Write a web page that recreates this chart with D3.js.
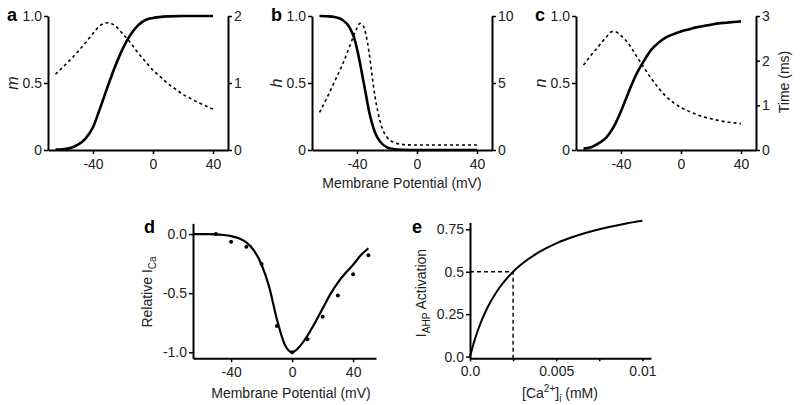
<!DOCTYPE html>
<html><head><meta charset="utf-8">
<script src="https://cdn.jsdelivr.net/npm/d3@7"></script>
<style>
body{margin:0;background:#fff;}
svg text{font-family:"Liberation Sans",Arial,sans-serif;}
</style></head>
<body><svg id="c" width="800" height="405"></svg>
<script>
// ---------- data ----------
const mV = [-65,-60,-55,-50,-45,-40,-35,-30,-25,-20,-15,-10,-5,0,10,20,30,40];
const mInf = [0.003,0.006,0.015,0.04,0.085,0.17,0.32,0.48,0.63,0.76,0.86,0.93,0.97,0.985,0.997,1,1,1];
const tauMV = [-65,-60,-55,-50,-45,-40,-35,-30,-25,-20,-15,-10,-5,0,5,10,15,20,25,30,35,40];
const tauM = [1.13,1.24,1.35,1.47,1.6,1.74,1.86,1.9,1.85,1.73,1.6,1.45,1.32,1.19,1.09,0.99,0.91,0.83,0.77,0.71,0.66,0.61];

const hV = [-65,-60,-55,-50,-45,-42,-40,-38,-36,-34,-32,-30,-28,-25,-20,-15,-10,0,20,40];
const hInf = [1,0.998,0.992,0.973,0.915,0.84,0.755,0.65,0.53,0.41,0.29,0.2,0.13,0.068,0.02,0.006,0.002,0,0,0];
const tauHV = [-65,-60,-55,-50,-45,-42,-40,-38,-36,-34,-32,-30,-28,-26,-24,-22,-20,-15,-10,-5,0,20,40];
const tauH = [2.8,3.9,5.1,6.3,7.7,8.6,9.1,9.45,9.3,8.6,7.3,5.6,4.0,2.8,1.9,1.3,0.95,0.55,0.42,0.38,0.37,0.37,0.37];

const nV = [-65,-60,-55,-50,-45,-40,-35,-30,-25,-20,-15,-10,-5,0,5,10,15,20,25,30,35,40];
const nInf = [0.01,0.02,0.05,0.09,0.17,0.29,0.43,0.56,0.66,0.745,0.8,0.84,0.865,0.885,0.9,0.915,0.925,0.935,0.945,0.95,0.955,0.96];
const tauNV = [-65,-60,-55,-50,-46,-44,-40,-35,-30,-25,-20,-15,-10,-5,0,5,10,15,20,25,30,35,40];
const tauN = [1.9,2.12,2.32,2.52,2.65,2.65,2.56,2.38,2.12,1.86,1.61,1.39,1.2,1.06,0.95,0.87,0.8,0.74,0.7,0.66,0.63,0.61,0.59];

const iCaDotV = [-50,-40,-30,-20,-10,0,10,20,30,40,50];
const iCaDot = [0,-0.065,-0.107,-0.254,-0.778,-1.0,-0.89,-0.70,-0.52,-0.34,-0.18];
const iCaFitV = [-65,-55,-50,-45,-40,-35,-30,-25,-20,-15,-10,-5,0,5,10,15,20,25,30,35,40,45,50];
const iCaFit = [0,0,-0.002,-0.008,-0.018,-0.035,-0.07,-0.14,-0.26,-0.45,-0.72,-0.93,-1.0,-0.95,-0.86,-0.75,-0.63,-0.51,-0.41,-0.33,-0.26,-0.18,-0.12];

const caConc = [0,0.00025,0.0005,0.001,0.0015,0.002,0.0025,0.003,0.004,0.005,0.006,0.007,0.008,0.009,0.01];
const ahpAct = [0,0.091,0.167,0.286,0.375,0.444,0.5,0.545,0.615,0.667,0.706,0.737,0.762,0.783,0.8];
const ahpHalf = [0.0025, 0.5];

const vTicks = [-40,0,40];
const gateTicks = [0,0.5,1];
const rightTicksA = [0,1,2], rightTicksB = [0,5,10], rightTicksC = [0,1,2,3];
const dYTicks = [0,-0.5,-1];
const eYTicks = [0,0.25,0.5,0.75];
const eXTicks = [0,0.0025,0.005,0.0075,0.01];
const eXLabels = {"0":"0.0","0.005":"0.005","0.01":"0.01"};

// ---------- drawing ----------
const svg = d3.select("#c");
const FS = 14, TXT = "#222";
const zip = (a,b) => a.map((v,i)=>[v,b[i]]);

function styleAxis(g){
  g.selectAll("path.domain").attr("stroke","#000").attr("stroke-width",2);
  g.selectAll(".tick line").attr("stroke","#000").attr("stroke-width",1.5);
  g.selectAll(".tick text").attr("font-size",FS).attr("fill",TXT)
    .attr("font-family","Liberation Sans, Arial, sans-serif");
}
function line(x,y,pts,dashed,w,curve){
  svg.append("path").datum(pts)
    .attr("fill","none").attr("stroke","#000")
    .attr("stroke-width",w)
    .attr("stroke-dasharray",dashed?"3,3":null)
    .attr("d",d3.line().x(d=>x(d[0])).y(d=>y(d[1])).curve(curve||d3.curveMonotoneX));
}
function letter(t,x,y){
  svg.append("text").attr("x",x).attr("y",y).text(t)
    .attr("font-size",18).attr("font-weight","bold").attr("fill","#000");
}
function ylab(t,x,y,italic,fs){
  return svg.append("text").attr("transform",`translate(${x},${y}) rotate(-90)`)
    .attr("text-anchor","middle").attr("font-size",fs||FS).attr("fill",TXT)
    .attr("font-style",italic?"italic":null).text(t);
}

function gatePanel(x0, lbl, sym, rDomain, rTicks, sV, sY, dV, dY){
  const x = d3.scaleLinear().domain([-70,50]).range([x0, x0+180]);
  const y = d3.scaleLinear().domain([0,1]).range([150,16]);
  const y2 = d3.scaleLinear().domain(rDomain).range([150,16]);
  line(x,y2,zip(dV,dY),true,1.6);
  line(x,y,zip(sV,sY),false,2.6);
  svg.append("g").attr("transform","translate(0,150)")
    .call(d3.axisBottom(x).tickValues(vTicks).tickFormat(d=>String(d)).tickSize(4).tickSizeOuter(0).tickPadding(5))
    .call(styleAxis);
  svg.append("g").attr("transform",`translate(${x0},0)`)
    .call(d3.axisLeft(y).tickValues(gateTicks).tickFormat(d=>d===0?"0":d3.format(".1f")(d)).tickSize(4).tickSizeOuter(0).tickPadding(2))
    .call(styleAxis);
  svg.append("g").attr("transform",`translate(${x0+180},0)`)
    .call(d3.axisRight(y2).tickValues(rTicks).tickFormat(d=>String(d)).tickSize(4).tickSizeOuter(0).tickPadding(2))
    .call(styleAxis);
  letter(lbl, x0-41, 21);
  ylab(sym, x0-30, 83, true, 16);
}

gatePanel(48, "a", "m", [0,2], rightTicksA, mV, mInf, tauMV, tauM);
gatePanel(312, "b", "h", [0,10], rightTicksB, hV, hInf, tauHV, tauH);
gatePanel(576, "c", "n", [0,3], rightTicksC, nV, nInf, tauNV, tauN);
ylab("Time (ms)", 789, 82);
svg.append("text").attr("x",402).attr("y",188).attr("text-anchor","middle")
  .attr("font-size",FS).attr("fill",TXT).text("Membrane Potential (mV)");

// panel d
{
  const x = d3.scaleLinear().domain([-65,55]).range([193,376]);
  const y = d3.scaleLinear().domain([-1.05,0.09]).range([358.2,223.4]);
  line(x,y,zip(iCaFitV,iCaFit),false,2.2);
  svg.append("g").selectAll("circle").data(zip(iCaDotV,iCaDot)).join("circle")
    .attr("cx",d=>x(d[0])).attr("cy",d=>y(d[1])).attr("r",2).attr("fill","#000");
  svg.append("g").attr("transform","translate(0,358.2)")
    .call(d3.axisBottom(x).tickValues(vTicks).tickFormat(d=>String(d)).tickSize(4).tickSizeOuter(0).tickPadding(5))
    .call(styleAxis);
  svg.append("g").attr("transform","translate(193,0)")
    .call(d3.axisLeft(y).tickValues(dYTicks).tickFormat(d=>d3.format(".1f")(d).replace("−","-")).tickSize(4).tickSizeOuter(0).tickPadding(2))
    .call(styleAxis);
  letter("d",144,233);
  const t = ylab("",152,292);
  t.append("tspan").text("Relative I");
  t.append("tspan").attr("font-size",10).attr("dy",4).text("Ca");
  svg.append("text").attr("x",291).attr("y",398).attr("text-anchor","middle")
    .attr("font-size",FS).attr("fill",TXT).text("Membrane Potential (mV)");
}

// panel e
{
  const x = d3.scaleLinear().domain([0,0.0105]).range([470,651]);
  const y = d3.scaleLinear().domain([-0.01,0.79]).range([358.3,222.5]);
  line(x,y,zip(caConc,ahpAct),false,2,d3.curveMonotoneX);
  svg.append("path").attr("fill","none").attr("stroke","#000").attr("stroke-width",1.4)
    .attr("stroke-dasharray","4,3")
    .attr("d",`M${x(0)},${y(ahpHalf[1])}H${x(ahpHalf[0])}V${y(-0.01)}`);
  svg.append("g").attr("transform","translate(0,358.3)")
    .call(d3.axisBottom(x).tickValues(eXTicks).tickFormat(d=>eXLabels[String(d)]||"").tickSize(3).tickSizeOuter(0).tickPadding(5))
    .call(styleAxis);
  svg.append("g").attr("transform","translate(470,0)")
    .call(d3.axisLeft(y).tickValues(eYTicks).tickFormat(d=>d===0?"0.0":String(d)).tickSize(4).tickSizeOuter(0).tickPadding(2))
    .call(styleAxis);
  letter("e",412,233);
  const t = ylab("",426,293);
  t.append("tspan").text("I");
  t.append("tspan").attr("font-size",10).attr("dy",4).text("AHP");
  t.append("tspan").attr("dy",-4).text(" Activation");
  const xl = svg.append("text").attr("x",560).attr("y",398).attr("text-anchor","middle")
    .attr("font-size",FS).attr("fill",TXT);
  xl.append("tspan").text("[Ca");
  xl.append("tspan").attr("font-size",10).attr("dy",-6).text("2+");
  xl.append("tspan").attr("dy",6).text("]");
  xl.append("tspan").attr("font-size",10).attr("dy",4).text("i");
  xl.append("tspan").attr("dy",-4).text(" (mM)");
}
</script></body></html>
